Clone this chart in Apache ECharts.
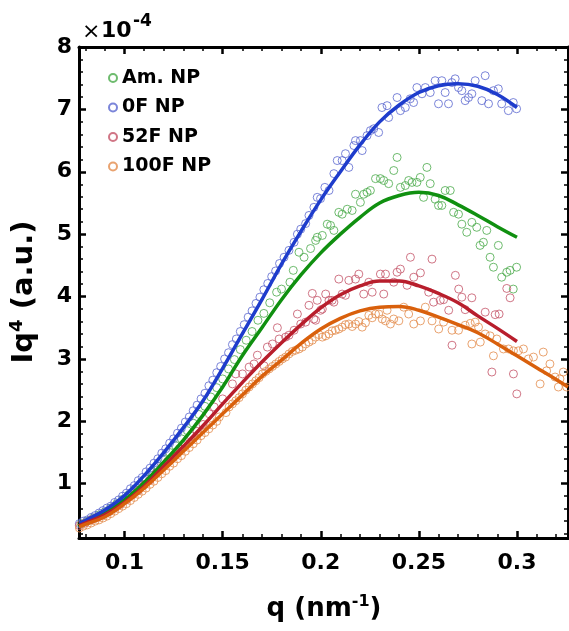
<!DOCTYPE html>
<html>
<head>
<meta charset="utf-8">
<script src="https://cdn.jsdelivr.net/npm/echarts@6/dist/echarts.min.js"></script>
<style>
  html, body { margin: 0; padding: 0; background: #fff; }
  #chart { width: 569px; height: 631px; }
</style>
</head>
<body>
<div id="chart"></div>
<script>
// data, values in units of 1e-4
var seriesNames = ['Am. NP', '0F NP', '52F NP', '100F NP'];

var amPts = [
  [0.078,0.36],[0.081,0.40],[0.084,0.45],[0.087,0.50],[0.090,0.55],[0.093,0.61],[0.096,0.68],[0.099,0.75],
  [0.102,0.82],[0.105,0.91],[0.108,0.99],[0.111,1.08],[0.114,1.18],[0.117,1.28],[0.120,1.39],[0.123,1.50],
  [0.126,1.61],[0.129,1.72],[0.132,1.85],[0.135,1.97],[0.138,2.11],[0.141,2.24],[0.144,2.39],[0.147,2.54],
  [0.150,2.68],[0.153,2.84],[0.156,2.99],[0.159,3.15],[0.162,3.30],[0.165,3.44],[0.168,3.62],[0.171,3.73],
  [0.174,3.90],[0.1775,4.07],[0.180,4.12],[0.1843,4.23],[0.186,4.42],
  [0.1889,4.71],[0.1915,4.63],[0.1948,4.77],[0.1974,4.90],[0.1982,4.95],[0.2008,4.98],[0.2033,5.16],
  [0.2050,5.14],[0.2067,5.06],[0.2092,5.35],[0.2109,5.32],[0.2135,5.40],[0.2160,5.38],[0.2177,5.64],
  [0.2202,5.51],[0.2219,5.64],[0.2236,5.67],[0.2253,5.70],[0.2279,5.89],[0.2304,5.89],[0.2321,5.86],
  [0.2346,5.81],[0.2372,6.02],[0.2389,6.23],[0.2406,5.75],[0.2431,5.78],[0.2448,5.86],[0.2465,5.83],
  [0.2490,5.83],[0.2507,5.91],[0.2524,5.59],[0.2541,6.07],[0.2558,5.81],[0.2583,5.56],[0.2600,5.46],
  [0.2617,5.46],[0.2634,5.70],[0.2660,5.70],[0.2677,5.35],[0.2702,5.32],[0.2719,5.16],[0.2744,5.03],
  [0.2770,5.19],[0.2795,5.11],[0.2812,4.82],[0.2829,4.87],[0.2846,5.06],[0.2863,4.63],[0.2880,4.47],
  [0.2905,4.82],[0.2922,4.31],[0.2948,4.39],[0.2965,4.42],[0.2981,4.12],[0.2998,4.47]
];

var f0Pts = [
  [0.077,0.36],[0.079,0.40],[0.081,0.42],[0.083,0.46],[0.085,0.49],[0.087,0.53],[0.089,0.57],[0.091,0.61],
  [0.093,0.64],[0.095,0.70],[0.097,0.74],[0.099,0.80],[0.101,0.85],[0.103,0.92],[0.105,0.97],[0.107,1.05],
  [0.109,1.10],[0.111,1.19],[0.113,1.25],[0.115,1.33],[0.117,1.40],[0.119,1.49],[0.121,1.56],[0.123,1.65],
  [0.125,1.72],[0.127,1.81],[0.129,1.89],[0.131,1.99],[0.133,2.07],[0.135,2.17],[0.137,2.26],[0.139,2.36],
  [0.141,2.45],[0.143,2.57],[0.145,2.66],[0.147,2.78],[0.149,2.88],[0.151,3.00],[0.153,3.10],[0.155,3.23],
  [0.157,3.32],[0.159,3.44],[0.161,3.55],[0.163,3.67],[0.165,3.77],[0.167,3.89],[0.169,3.99],[0.171,4.11],
  [0.173,4.21],[0.175,4.32],[0.177,4.41],[0.179,4.53],
  [0.1813,4.63],[0.1838,4.74],[0.1864,4.87],[0.1881,5.00],[0.1898,5.08],[0.1923,5.17],[0.1940,5.30],
  [0.1965,5.43],[0.1982,5.59],[0.1999,5.57],[0.2021,5.75],[0.2042,5.70],[0.2067,5.97],[0.2084,6.18],
  [0.2109,6.18],[0.2126,6.29],[0.2143,6.07],[0.2169,6.42],[0.2177,6.50],[0.2202,6.50],[0.2211,6.34],
  [0.2236,6.58],[0.2253,6.66],[0.2270,6.69],[0.2295,6.63],
  [0.2312,7.03],[0.2338,7.06],[0.2346,6.87],[0.2389,7.19],[0.2406,6.98],[0.2431,7.03],[0.2456,7.17],
  [0.2473,7.11],[0.2490,7.35],[0.2516,7.25],[0.2533,7.35],[0.2558,7.27],[0.2583,7.46],[0.2600,7.09],
  [0.2617,7.46],[0.2634,7.27],[0.2651,7.09],[0.2668,7.43],[0.2685,7.49],[0.2702,7.35],[0.2719,7.30],
  [0.2736,7.14],[0.2753,7.19],[0.2770,7.25],[0.2787,7.46],[0.2821,7.14],[0.2838,7.54],[0.2855,7.09],
  [0.2880,7.30],[0.2905,7.33],[0.2922,7.09],[0.2956,6.98],[0.2981,7.11],[0.2998,7.01]
];

var f52Pts = [
  [0.077,0.33],[0.080,0.37],[0.083,0.42],[0.086,0.46],[0.089,0.50],[0.092,0.55],[0.095,0.61],[0.098,0.67],
  [0.101,0.74],[0.104,0.82],[0.107,0.89],[0.110,0.98],[0.113,1.06],[0.116,1.16],[0.119,1.26],[0.122,1.36],
  [0.125,1.44],[0.128,1.56],[0.131,1.64],[0.134,1.76],[0.137,1.84],[0.140,1.95],[0.1432,2.12],[0.1457,2.23],
  [0.1500,2.36],[0.1550,2.60],[0.1567,2.76],[0.1601,2.76],[0.1635,2.87],[0.1660,2.92],[0.1677,3.06],
  [0.1711,2.89],[0.1728,3.19],[0.1754,3.24],[0.1779,3.50],[0.1788,3.32],[0.1821,3.35],[0.1838,3.38],
  [0.1864,3.46],[0.1881,3.72],[0.1898,3.56],[0.1923,3.59],[0.1940,3.86],[0.1965,3.64],[0.1957,4.05],
  [0.1974,3.62],[0.1982,3.94],[0.1999,3.78],[0.2008,3.80],[0.2025,4.04],[0.2042,3.94],[0.2058,3.94],
  [0.2067,3.91],[0.2092,4.28],[0.2109,4.04],[0.2126,4.02],[0.2143,4.26],[0.2177,4.28],[0.2194,4.36],
  [0.2219,4.04],[0.2245,4.23],[0.2262,4.07],[0.2304,4.36],[0.2321,4.04],[0.2330,4.36],
  [0.2372,4.23],[0.2389,4.39],[0.2406,4.44],[0.2440,4.18],[0.2457,4.63],[0.2474,4.31],[0.2508,4.38],
  [0.2550,4.07],[0.2567,4.60],[0.2575,3.91],[0.2609,3.94],[0.2626,3.95],[0.2652,3.78],[0.2669,3.22],
  [0.2686,4.34],[0.2703,4.12],[0.2719,3.99],[0.2736,3.79],[0.2770,3.98],[0.2838,3.75],[0.2872,2.79],
  [0.2889,3.71],[0.2909,3.72],[0.2948,4.13],[0.2965,3.98],[0.2982,2.76],[0.2999,2.44]
];

var f100Pts = [
  [0.077,0.29],[0.079,0.32],[0.081,0.34],[0.083,0.37],[0.085,0.40],[0.087,0.42],[0.089,0.45],[0.091,0.48],
  [0.093,0.52],[0.095,0.56],[0.097,0.60],[0.099,0.64],[0.101,0.68],[0.103,0.73],[0.105,0.78],[0.107,0.83],
  [0.109,0.88],[0.111,0.93],[0.113,0.99],[0.115,1.04],[0.117,1.10],[0.119,1.16],[0.121,1.21],[0.123,1.28],
  [0.125,1.33],[0.127,1.40],[0.129,1.45],[0.131,1.52],[0.133,1.58],[0.135,1.64],[0.137,1.70],[0.139,1.77],
  [0.141,1.82],[0.143,1.88],[0.145,1.94],[0.147,2.00],
  [0.1483,2.07],[0.1517,2.14],[0.1533,2.23],[0.1550,2.28],[0.1567,2.33],[0.1584,2.38],[0.1601,2.44],
  [0.1618,2.50],[0.1635,2.55],[0.1652,2.60],[0.1669,2.65],[0.1686,2.70],[0.1703,2.76],[0.1720,2.80],
  [0.1737,2.84],[0.1754,2.88],[0.1771,2.92],[0.1788,2.96],[0.1804,3.00],[0.1821,3.03],[0.1838,3.08],
  [0.1855,3.12],[0.1872,3.14],[0.1889,3.16],[0.1906,3.19],[0.1923,3.24],[0.1940,3.27],[0.1957,3.30],
  [0.1974,3.35],[0.1991,3.39],[0.2008,3.35],[0.2025,3.37],[0.2042,3.40],[0.2058,3.45],[0.2075,3.46],
  [0.2092,3.48],[0.2109,3.51],[0.2126,3.55],[0.2143,3.56],[0.2160,3.52],[0.2177,3.56],[0.2194,3.60],
  [0.2211,3.51],[0.2228,3.58],[0.2245,3.70],[0.2262,3.66],[0.2279,3.72],[0.2296,3.72],[0.2313,3.64],
  [0.2330,3.61],[0.2338,3.78],[0.2355,3.56],[0.2372,3.64],[0.2398,3.61],[0.2423,3.83],[0.2448,3.72],
  [0.2474,3.56],[0.2508,3.61],[0.2533,3.83],[0.2567,3.61],[0.2601,3.48],[0.2626,3.59],[0.2669,3.46],
  [0.2702,3.46],[0.2736,3.54],[0.2762,3.57],[0.2787,3.59],[0.2804,3.51],[0.2770,3.24],[0.2813,3.27],
  [0.2838,3.40],[0.2863,3.37],[0.2880,3.05],[0.2897,3.32],[0.2931,3.16],[0.2957,3.16],[0.2982,3.13],
  [0.3007,3.13],[0.3033,3.16],[0.3058,3.00],[0.3084,3.03],[0.3118,2.60],[0.3134,3.11],[0.3151,2.81],
  [0.3168,2.92],[0.3194,2.71],[0.3211,2.55],[0.3219,2.68],[0.3236,2.79],[0.3253,2.55]
];

// fitted curves
var fitQ = [0.077,0.08,0.09,0.1,0.11,0.12,0.13,0.14,0.15,0.16,0.17,0.18,0.19,0.2,0.21,0.22,0.23,0.24,0.25,0.26,0.27,0.28,0.29,0.3];
var amFit  = [0.35,0.39,0.53,0.74,1.02,1.35,1.70,2.10,2.55,3.05,3.50,3.95,4.35,4.70,5.00,5.27,5.50,5.62,5.67,5.62,5.47,5.30,5.12,4.95];
var f0Fit  = [0.37,0.41,0.58,0.81,1.13,1.50,1.90,2.33,2.85,3.40,3.95,4.52,5.05,5.55,6.00,6.43,6.80,7.07,7.27,7.38,7.41,7.37,7.24,7.03];
var f52Fit = [0.33,0.37,0.50,0.70,0.96,1.28,1.60,1.93,2.28,2.62,2.95,3.26,3.55,3.82,4.03,4.17,4.25,4.25,4.17,4.05,3.90,3.69,3.49,3.28];
var f100FitQ = fitQ.concat([0.31,0.32,0.326]);
var f100Fit  = [0.31,0.35,0.47,0.68,0.93,1.22,1.52,1.82,2.12,2.42,2.72,2.98,3.25,3.48,3.65,3.77,3.83,3.84,3.78,3.67,3.55,3.42,3.24,3.05,2.86,2.67,2.55];

var xMajor = [0.1,0.15,0.2,0.25,0.3];
var xMinor = [0.08,0.09,0.11,0.12,0.13,0.14,0.16,0.17,0.18,0.19,0.21,0.22,0.23,0.24,0.26,0.27,0.28,0.29,0.31,0.32];
var yMajor = [1,2,3,4,5,6,7,8];
var yMinor = [0.2,0.4,0.6,0.8,1.2,1.4,1.6,1.8,2.2,2.4,2.6,2.8,3.2,3.4,3.6,3.8,4.2,4.4,4.6,4.8,5.2,5.4,5.6,5.8,6.2,6.4,6.6,6.8,7.2,7.4,7.6,7.8];

var dotColors  = ['#4aaa4a','#5a67d0','#c45468','#e38c4c'];
var lineColors = ['#109010','#1e3ccc','#b81e2c','#d9600c'];

var FONT = 'DejaVu Sans';

function zip(q, v) {
  return q.map(function (x, i) { return [x, v[i]]; });
}

function xAx(pos, ticks, len, w, withLine, withLabel) {
  return {
    type: 'value', position: pos, min: 0.0768, max: 0.326,
    axisLine: { show: withLine, onZero: false, lineStyle: { color: '#000', width: 3 } },
    axisTick: { show: true, inside: true, length: len, customValues: ticks, lineStyle: { color: '#000', width: w } },
    axisLabel: { show: withLabel, customValues: ticks, margin: 14, color: '#000',
      fontFamily: FONT, fontWeight: 'bold', fontSize: 22 },
    splitLine: { show: false }
  };
}
function yAx(pos, ticks, len, w, withLine, withLabel) {
  return {
    type: 'value', position: pos, min: 0.13, max: 8,
    axisLine: { show: withLine, onZero: false, lineStyle: { color: '#000', width: 3 } },
    axisTick: { show: true, inside: true, length: len, customValues: ticks, lineStyle: { color: '#000', width: w } },
    axisLabel: { show: withLabel, customValues: ticks, margin: 7, color: '#000',
      fontFamily: FONT, fontWeight: 'bold', fontSize: 22 },
    splitLine: { show: false }
  };
}

var pts = [amPts, f0Pts, f52Pts, f100Pts];
var fits = [zip(fitQ, amFit), zip(fitQ, f0Fit), zip(fitQ, f52Fit), zip(f100FitQ, f100Fit)];

var series = [];
pts.forEach(function (d, i) {
  series.push({
    name: seriesNames[i], type: 'scatter', data: d, symbol: 'circle', symbolSize: 8,
    itemStyle: { color: 'rgba(255,255,255,0)', borderColor: dotColors[i], borderWidth: 1 },
    z: 2
  });
});
fits.forEach(function (d, i) {
  series.push({
    name: seriesNames[i] + ' fit', type: 'line', data: d, smooth: 0.4, showSymbol: false,
    lineStyle: { color: lineColors[i], width: 3.5 }, z: 3
  });
});

var chart = echarts.init(document.getElementById('chart'));
chart.setOption({
  animation: false,
  backgroundColor: '#fff',
  grid: { left: 79, right: 1, top: 47, bottom: 93 },
  xAxis: [
    xAx('bottom', xMajor, 7, 2.5, true, true),
    xAx('bottom', xMinor, 4, 1.5, false, false),
    xAx('top', xMajor, 7, 2.5, true, false),
    xAx('top', xMinor, 4, 1.5, false, false)
  ],
  yAxis: [
    yAx('left', yMajor, 7, 2.5, true, true),
    yAx('left', yMinor, 4, 1.5, false, false),
    yAx('right', yMajor, 7, 2.5, true, false),
    yAx('right', yMinor, 4, 1.5, false, false)
  ],
  legend: {
    data: seriesNames, orient: 'vertical', left: 103, top: 63,
    itemWidth: 8, itemHeight: 8, itemGap: 9.5,
    textStyle: { fontFamily: FONT, fontWeight: 'bold', fontSize: 19, color: '#000', lineHeight: 20 }
  },
  graphic: [
    { type: 'text', left: 82, top: 21, style: { text: '×', fontFamily: FONT, fontSize: 22, fill: '#000' } },
    { type: 'text', left: 101, top: 20, style: { text: '10', fontFamily: FONT, fontWeight: 'bold', fontSize: 22, fill: '#000' } },
    { type: 'text', left: 133, top: 13, style: { text: '-4', fontFamily: FONT, fontWeight: 'bold', fontSize: 17, fill: '#000' } },
    {
      type: 'text', x: 24, y: 292, rotation: Math.PI / 2,
      style: {
        text: '{a|Iq}{s|4}{a| (a.u.)}', align: 'center', verticalAlign: 'middle',
        rich: {
          a: { fontFamily: FONT, fontWeight: 'bold', fontSize: 29, fill: '#000', lineHeight: 32 },
          s: { fontFamily: FONT, fontWeight: 'bold', fontSize: 18, fill: '#000', lineHeight: 32, verticalAlign: 'top' }
        }
      }
    },
    {
      type: 'text', x: 324, y: 609,
      style: {
        text: '{a|q (nm}{s|-1}{a|)}', align: 'center', verticalAlign: 'middle',
        rich: {
          a: { fontFamily: FONT, fontWeight: 'bold', fontSize: 26, fill: '#000', lineHeight: 30 },
          s: { fontFamily: FONT, fontWeight: 'bold', fontSize: 16, fill: '#000', lineHeight: 30, verticalAlign: 'top' }
        }
      }
    }
  ],
  series: series
});
</script>
</body>
</html>
